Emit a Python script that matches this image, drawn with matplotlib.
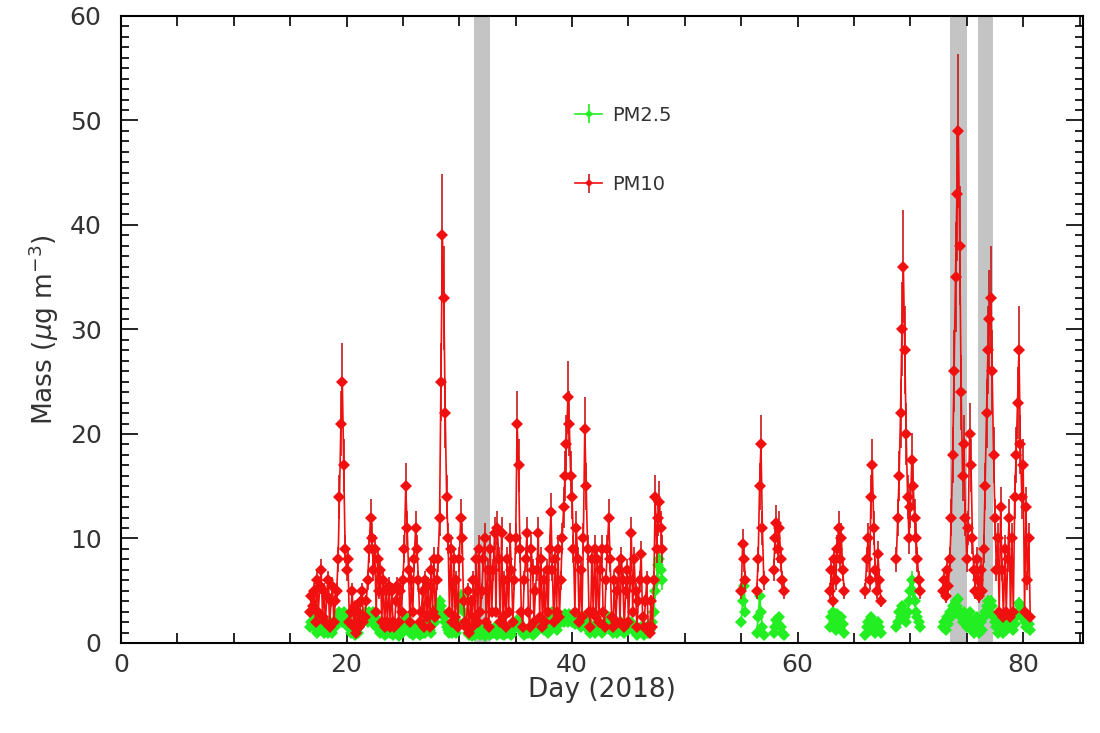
import numpy as np
import matplotlib.pyplot as plt
from matplotlib.ticker import MultipleLocator

plt.rcParams['font.family'] = ['DejaVu Sans']

# sampling step of the measurements (days)
STEP = 0.125

# start day of each measured stretch
seg_start = [16.75, 55.0, 56.375, 57.875, 62.875, 66.0, 68.75, 72.875]

# PM10 (ug m-3), one list per stretch
pm10_a = [3, 4.5,
          3.5, 5, 2, 6, 3, 5.5, 7, 2.5,
          5, 2, 4.5, 6, 1.5, 4, 5.5, 2,
          4, 5, 8, 14, 21, 25, 17, 9,
          7, 8, 2, 3, 5, 1.5, 3.5, 1,
          3, 1.5, 4, 5, 2, 2.5, 4, 6,
          9, 12, 10, 7, 9, 3, 8, 5,
          7, 2, 6, 1.5, 5, 2, 5.5, 1.5,
          5, 2, 1.5, 4, 5.5, 2, 5, 3,
          6, 9, 15, 11, 7, 2, 6, 3,
          8, 11, 9, 6, 2, 3, 5, 1.5,
          6, 2.5, 5.5, 1.5, 7, 3, 8, 2.5,
          6, 8, 12, 25, 39, 33, 22, 14,
          10, 3, 9, 2, 8, 2.5, 6, 1.5,
          8, 12, 10, 4, 2, 1.5, 5, 1,
          4, 1.5, 6, 2.5, 8, 2, 9, 3,
          5, 8, 10, 2, 7, 1.5, 9, 3,
          7, 10.5, 3, 11, 8, 2, 10.5, 2.5,
          6, 1.5, 8, 3, 10, 7, 2, 6,
          10, 21, 17, 9, 3, 1.5, 6, 8,
          10.5, 3, 1.5, 9, 7, 2, 5, 7,
          10.5, 2.5, 8, 1.5, 6, 2, 7, 3,
          9, 12.5, 7, 2, 8, 3, 9, 2.5,
          6, 10, 13, 16, 19, 23.5, 21, 16,
          14, 9, 3, 11, 8, 2, 7, 2.5,
          10, 20.5, 15, 9, 3, 1.5, 8, 3,
          9, 2.5, 8, 2, 7, 9, 3, 1.5,
          6, 9, 12, 8, 2.5, 1.5, 6, 2,
          5, 7, 2, 8, 6, 1.5, 5, 7,
          2, 6, 10.5, 3, 8, 5, 1.5, 4,
          6, 8.5, 2.5, 1.5, 4, 6, 1.5, 1,
          4, 1.5, 6, 14, 9, 12, 13.5, 11,
          9]
pm10_b = [5, 9.5, 8, 6]
pm10_c = [5, 8, 15, 19, 11, 6]
pm10_d = [7, 10, 11.5, 9, 11, 8, 6, 5]
pm10_e = [5, 7, 4, 8, 6, 9, 11, 8, 10, 7, 5]
pm10_f = [5, 8, 10, 6, 14, 17, 11, 7, 5, 8.5, 6, 4]
pm10_g = [8, 12, 16, 22, 30, 36, 28, 20, 14, 10, 13, 17.5, 15, 12, 10, 8, 6, 5]
pm10_h = [5,
          6, 4.5, 7, 5.5, 8, 12, 18, 26,
          35, 43, 49, 38, 24, 16, 19, 12,
          8, 11, 20, 17, 10, 7, 5, 8,
          6, 4.5, 7, 5, 9, 15, 22, 28,
          31, 33, 26, 18, 12, 7, 10, 3,
          13, 7, 2.5, 9, 3, 8, 12, 2.5,
          10, 3, 14, 18, 23, 28, 19, 14,
          17, 3, 13, 6, 10, 2.5]

# PM2.5 (ug m-3), same sampling
pm25_a = [1.5, 2,
          2, 1.5, 2.5, 1, 2, 1.5, 2.5, 1.5,
          1, 2, 1.5, 1, 2, 1.5, 1, 2,
          1.5, 2, 2.5, 3, 2.5, 2, 3, 2,
          2.5, 1.5, 2, 1, 1.5, 1, 0.8, 1.2,
          1, 1.5, 2, 2.5, 2, 3, 2.5, 2,
          3, 2.5, 2, 3, 2.5, 1.5, 2, 1.5,
          1, 1.5, 1, 0.8, 1.2, 1, 1.5, 1,
          1.2, 0.8, 1, 1.5, 1, 0.7, 1.3, 1,
          1.5, 2, 2.5, 2, 1.5, 1, 1.2, 0.8,
          1, 1.5, 1.2, 1, 0.8, 1.2, 1, 1.5,
          1, 1.5, 2, 1.2, 1, 1.8, 2.5, 2,
          3, 3.5, 4, 3.5, 3, 2.5, 2, 1.5,
          1.2, 1, 1.5, 1, 2, 1.5, 1, 2,
          3.5, 4.5, 4, 3, 2, 1.5, 1, 0.8,
          1, 0.7, 1.2, 0.8, 1, 1.5, 1, 0.8,
          1.2, 1, 0.7, 1, 1.5, 1, 0.8, 1.2,
          1, 1.5, 1.2, 0.8, 1, 1.3, 0.9, 1.1,
          0.8, 1.2, 1, 1.5, 1, 0.8, 1.2, 1.5,
          1.8, 2.2, 2, 1.5, 1.2, 1, 0.8, 1,
          1.2, 1, 1.5, 1, 0.8, 1.2, 1, 1.5,
          1.2, 1.8, 2.2, 1.5, 1.2, 2, 1.5, 1,
          1.2, 2.5, 3, 2, 1.5, 1.2, 1.8, 2,
          2, 2.5, 2, 2.8, 2.5, 2, 2.8, 2.5,
          2, 2.5, 1.8, 2.2, 2.6, 2, 1.5, 2,
          2.5, 2, 1.5, 2, 1.2, 1, 1.5, 1.2,
          1, 1.5, 1.2, 2, 1.5, 1, 1.2, 1.5,
          1.5, 2, 2.5, 1.8, 1.2, 1, 1.5, 1.2,
          1, 1.5, 1.2, 2, 1.5, 1, 1.2, 1.8,
          1.2, 1.5, 2, 1.5, 1.2, 1, 0.8, 1,
          1.2, 1.5, 1, 0.8, 1.2, 1.5, 1, 1.2,
          1.5, 2, 3, 5, 6, 7.5, 8, 7,
          6]
pm25_b = [2, 4, 5.5, 3]
pm25_c = [1, 2.5, 4.5, 3, 1.5, 0.8]
pm25_d = [1, 1.5, 2.2, 1.8, 2.5, 1.5, 1, 0.8]
pm25_e = [1.5, 2.5, 3, 2, 1.2, 2.8, 2, 1.5, 2.5, 1.8, 1]
pm25_f = [0.8, 1.5, 2, 1.2, 2.5, 2, 1.5, 1, 1.2, 2, 1.5, 1]
pm25_g = [1.5, 2, 3, 2.5, 3.5, 3, 2.5, 2, 3, 4, 5, 6, 5, 4, 3, 2.5, 2, 1.5]
pm25_h = [1.5,
          2, 1.2, 2.5, 1.8, 3, 2.5, 3.5, 3,
          4, 3.5, 4.2, 3, 2.5, 2, 3, 2.2,
          1.5, 2.5, 3, 2, 1.2, 1, 1.8, 2.5,
          1.5, 1, 2, 1.2, 2.5, 3, 3.5, 4,
          3, 4, 3.5, 2.5, 2, 1.5, 1, 2,
          2.5, 1.5, 1, 2, 1.2, 1.8, 2.5, 1.5,
          2, 1.2, 1.8, 2.5, 3, 3.8, 3.5, 2.5,
          3, 2, 1.5, 2.5, 1.8, 1.2]

# relative measurement uncertainty
rel_err = 0.15

# instrument-off periods (grey bands)
gap_start = [31.3, 73.5, 75.95]
gap_end = [32.7, 75.0, 77.35]

pm10_segs = [pm10_a, pm10_b, pm10_c, pm10_d, pm10_e, pm10_f, pm10_g, pm10_h]
pm25_segs = [pm25_a, pm25_b, pm25_c, pm25_d, pm25_e, pm25_f, pm25_g, pm25_h]

txt = '#333333'
green = '#22ee22'
red = '#f01010'

fig = plt.figure(figsize=(11, 7.33), dpi=100)
ax = fig.add_axes([0.11, 0.1228, 0.8745, 0.8555])

for a, b in zip(gap_start, gap_end):
    ax.axvspan(a, b, color='#c4c4c4', lw=0, zorder=0)

for i, (t0, v) in enumerate(zip(seg_start, pm25_segs)):
    v = np.array(v, dtype=float)
    d = t0 + STEP * np.arange(len(v))
    ax.errorbar(d, v, yerr=rel_err * v, fmt='-D', color=green, ecolor=green,
                elinewidth=1.2, lw=1.2, ms=6.5, mew=0, zorder=2,
                label='PM2.5' if i == 0 else None)

for i, (t0, v) in enumerate(zip(seg_start, pm10_segs)):
    v = np.array(v, dtype=float)
    d = t0 + STEP * np.arange(len(v))
    ax.errorbar(d, v, yerr=rel_err * v, fmt='-D', color=red, ecolor='#c81818',
                elinewidth=1.2, lw=1.2, ms=6.5, mew=0, zorder=3,
                label='PM10' if i == 0 else None)

ax.set_xlim(0, 85.3)
ax.set_ylim(0, 60)

ax.xaxis.set_major_locator(MultipleLocator(20))
ax.xaxis.set_minor_locator(MultipleLocator(5))
ax.yaxis.set_major_locator(MultipleLocator(10))
ax.yaxis.set_minor_locator(MultipleLocator(1))
ax.tick_params(which='both', direction='in', top=True, right=True,
               colors='black', labelcolor=txt, labelsize=18, width=1.2)
ax.tick_params(axis='y', which='major', length=12, pad=14)
ax.tick_params(axis='y', which='minor', length=6)
ax.tick_params(axis='x', which='major', length=8, pad=7)
ax.tick_params(axis='x', which='minor', length=7)
for s in ax.spines.values():
    s.set_linewidth(1.5)

ax.set_xlabel('Day (2018)', fontsize=19, color=txt, labelpad=0)
ax.set_ylabel(r'Mass ($\mu$g m$^{-3}$)', fontsize=19, color=txt, labelpad=6)

leg = ax.legend(loc='upper left', bbox_to_anchor=(0.472, 0.857), frameon=False,
                fontsize=14, handlelength=1.4, labelspacing=2.6,
                handletextpad=0.5, borderaxespad=0, borderpad=0,
                markerscale=0.7)
for t in leg.get_texts():
    t.set_color(txt)

fig.savefig('out.png', dpi=100)
